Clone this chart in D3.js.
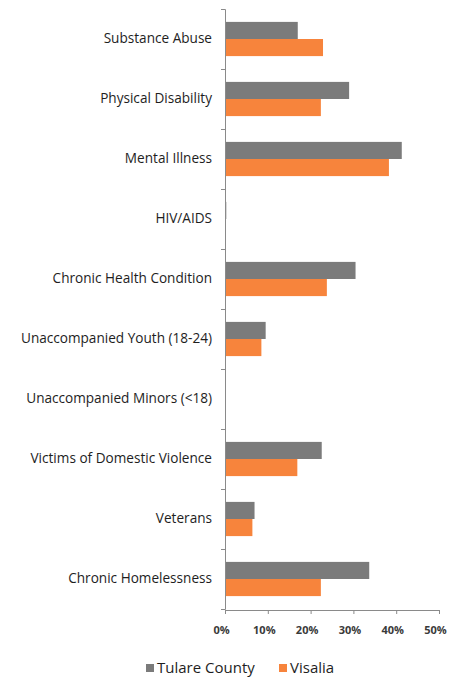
<!DOCTYPE html>
<html>
<head>
<meta charset="utf-8">
<script src="https://cdn.jsdelivr.net/npm/d3@7"></script>
<style>
  body { margin: 0; background: #fff; }
  svg text { font-family: "Open Sans", Lato, sans-serif; }
</style>
</head>
<body>
<div id="chart"></div>
<script>
// Categories, top to bottom
const categories = [
    'Substance Abuse',
    'Physical Disability',
    'Mental Illness',
    'HIV/AIDS',
    'Chronic Health Condition',
    'Unaccompanied Youth (18-24)',
    'Unaccompanied Minors (<18)',
    'Victims of Domestic Violence',
    'Veterans',
    'Chronic Homelessness'
];
const seriesNames = ['Tulare County', 'Visalia'];
const tulareValues = [0.17, 0.29, 0.413, 0.003, 0.305, 0.095, 0, 0.226, 0.069, 0.337];
const visaliaValues = [0.229, 0.224, 0.383, 0, 0.238, 0.085, 0, 0.169, 0.064, 0.224];
const xTicks = [0, 0.1, 0.2, 0.3, 0.4, 0.5];
const colors = ['#7b7b7b', '#f7843c'];

const W = 452, H = 679;
const svg = d3.select('#chart')
    .append('svg')
    .attr('width', W)
    .attr('height', H);

const x0 = 225, x1 = 439;
const yTop = 9, yBottom = 609;

const x = d3.scaleLinear().domain([0, 0.5]).range([x0, x1]);

const y = d3.scaleBand()
    .domain(categories)
    .range([yTop, yBottom])
    .paddingInner(0.43)
    .paddingOuter(0.215);

const ySub = d3.scaleBand()
    .domain(seriesNames)
    .range([0, y.bandwidth()]);

// Bars
const rows = categories.map((c, i) => ({ cat: c, vals: [tulareValues[i], visaliaValues[i]] }));
const groups = svg.selectAll('.row')
    .data(rows)
    .enter()
    .append('g')
    .attr('transform', d => `translate(0,${y(d.cat)})`);

groups.selectAll('rect')
    .data(d => d.vals.map((v, j) => ({ series: seriesNames[j], value: v, idx: j })))
    .enter()
    .append('rect')
    .attr('x', x(0))
    .attr('y', d => ySub(d.series))
    .attr('width', d => x(d.value) - x(0))
    .attr('height', ySub.bandwidth())
    .attr('fill', d => colors[d.idx]);

// Category boundary ticks on the vertical axis
const yBound = d3.scaleLinear().domain([0, categories.length]).range([yTop, yBottom]);
svg.append('g')
    .attr('transform', `translate(${x0},0)`)
    .call(d3.axisLeft(yBound).ticks(categories.length).tickSize(4).tickFormat(''))
    .call(g => g.selectAll('line, path').attr('stroke', '#8a8a8a'));

// Category labels
svg.append('g')
    .attr('transform', `translate(${x0},0)`)
    .call(d3.axisLeft(y).tickSize(0).tickPadding(13))
    .call(g => g.select('.domain').remove())
    .selectAll('text')
    .style('font-size', '13.6px')
    .style('fill', '#1e1e1e');

// X axis
svg.append('g')
    .attr('transform', `translate(0,${yBottom + 1})`)
    .call(d3.axisBottom(x).tickValues(xTicks).tickSize(4).tickPadding(12)
        .tickFormat(d3.format('.0%')))
    .call(g => g.selectAll('line, path').attr('stroke', '#8a8a8a'))
    .selectAll('text')
    .attr('dx', -4)
    .style('font-size', '11px')
    .style('font-weight', 'bold')
    .style('fill', '#3a3a3a');

// Legend
const legend = svg.append('g').attr('transform', 'translate(146,668)');
const legendX = [0, 133];
seriesNames.forEach((name, i) => {
    const item = legend.append('g').attr('transform', `translate(${legendX[i]},0)`);
    item.append('rect')
        .attr('x', 0)
        .attr('y', -4)
        .attr('width', 8)
        .attr('height', 8)
        .attr('fill', colors[i]);
    item.append('text')
        .attr('x', 11)
        .attr('y', 0)
        .attr('dy', '0.35em')
        .style('font-size', '15px')
        .style('fill', '#1e1e1e')
        .text(name);
});
</script>
</body>
</html>
